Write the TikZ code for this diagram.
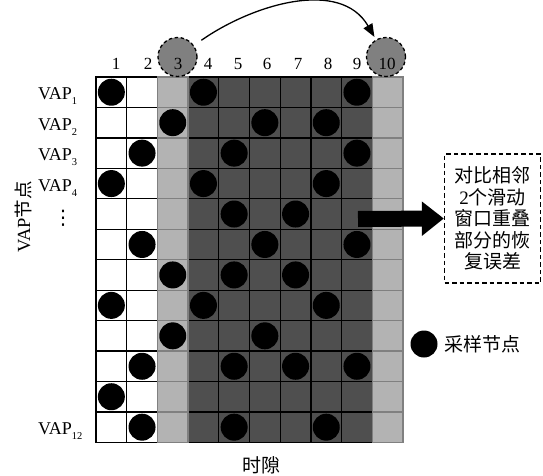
\documentclass[tikz,border=0pt]{standalone}
\usepackage{fontspec}
\setmainfont{Liberation Serif}
\newfontfamily\cjk{Noto Sans CJK SC}
\newfontfamily\symfont{DejaVu Sans}
\usetikzlibrary{arrows.meta}
\definecolor{lightcol}{HTML}{B3B3B3}
\definecolor{darkcol}{HTML}{4F4F4F}
\definecolor{circcol}{HTML}{808080}
\begin{document}
\begin{tikzpicture}[x=1pt,y=1pt,
  cellbox/.style={draw=black, line width=1.3pt, minimum width=30.7pt, minimum height=30.45pt, inner sep=0pt, outer sep=0pt},
  whitecell/.style={cellbox, fill=white},
  darkcell/.style={cellbox, fill=darkcol},
  lightcell/.style={cellbox, draw=black!50, fill=lightcol},
  dot/.style={circle, fill=black, minimum size=27pt, inner sep=0pt},
  topcirc/.style={circle, draw=black, dashed, dash pattern=on 3.5pt off 2.5pt, line width=1.3pt, fill=circcol, minimum size=39pt, inner sep=0pt},
  numlab/.style={anchor=base, font=\fontsize{17}{17}\selectfont, inner sep=0pt},
  vaplab/.style={anchor=base west, font=\fontsize{18}{18}\selectfont, inner sep=0pt},
  cjktext/.style={font=\cjk\fontsize{19}{21.5}\selectfont},
  notebox/.style={draw=black, dashed, dash pattern=on 4.5pt off 3pt, line width=1.3pt, minimum width=96pt, minimum height=129pt, align=center, inner sep=2pt},
  curvearrow/.style={line width=1.3pt, -{Triangle[length=13pt,width=10pt]}},
  bigarrow/.style={line width=16pt, -{Triangle[length=22pt,width=33pt]}}
]
\useasboundingbox (0,0) rectangle (543,475);

% grid cells
\foreach \r in {1,...,12}{
  \foreach \c in {1,2}{
    \node[whitecell] (cell-\r-\c) at ({96+30.7*(\c-0.5)},{398-30.45*(\r-0.5)}) {};
  }
  \foreach \c in {4,...,9}{
    \node[darkcell] (cell-\r-\c) at ({96+30.7*(\c-0.5)},{398-30.45*(\r-0.5)}) {};
  }
}
\foreach \r in {1,...,12}{
  \foreach \c in {3,10}{
    \node[lightcell] (cell-\r-\c) at ({96+30.7*(\c-0.5)},{398-30.45*(\r-0.5)}) {};
  }
}

% sampled nodes
\foreach \r/\cs in {1/{1,4,9},2/{3,6,8},3/{2,5,9},4/{1,4,8},5/{5,7},6/{2,6,9},7/{3,5,7},8/{1,4,8},9/{3,6},10/{2,5,7,9},11/{1},12/{2,5,8}}{
  \foreach \c in \cs{
    \node[dot] (dot-\r-\c) at (cell-\r-\c) {};
  }
}

% top circles and column numbers
\node[topcirc] (c3) at (177.5,418) {};
\node[topcirc] (c10) at (386,418) {};
\foreach \i/\xx in {1/116,2/148,3/178,4/208,5/238,6/267,7/298,8/328,9/357,10/387}{
  \node[numlab] (num-\i) at (\xx,405) {\i};
}
\draw[curvearrow, shorten <=9pt, shorten >=3pt] (c3) to[out=35,in=120] (c10);

% row labels
\foreach \r/\s in {1/1,2/2,3/3,4/4,12/12}{
  \node[vaplab] (vap-\r) at (38,{475-(77+30.45*(\r-0.5))-7.5}) {VAP\raisebox{-0.28em}{\fontsize{10.5}{10.5}\selectfont\s}};
}
\node[font=\symfont\fontsize{20}{20}\selectfont, inner sep=0pt] (vdots) at (63,257) {⋮};
\node[rotate=90, font=\fontsize{18.5}{18.5}\selectfont, inner sep=0pt] (ylab) at (23,258) {VAP{\cjk 节点}};
\node[cjktext, inner sep=0pt] (xlab) at (261,10) {时隙};

% note box and big arrow
\node[notebox, cjktext] (box) at (492.5,256.5) {对比相邻\\\textrm{2}个滑动\\窗口重叠\\部分的恢\\复误差};
\coordinate (arrstart) at (358,256);
\draw[bigarrow] (arrstart) -- (box.west);

% legend
\node[dot] (legdot) at (424,131) {};
\node[cjktext, anchor=west, inner sep=0pt] (legtext) at (444,131) {采样节点};
\end{tikzpicture}
\end{document}
